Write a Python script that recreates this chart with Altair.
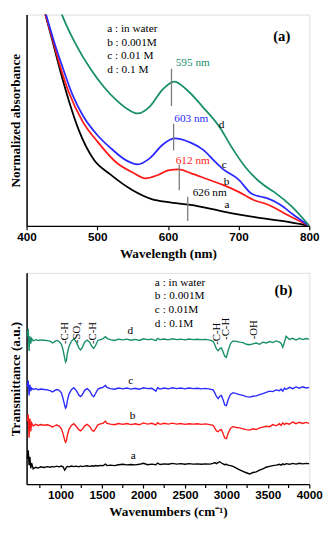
import altair as alt
import pandas as pd

# ---------------- Panel (a): UV-Vis ----------------
a_wl = [425, 437, 448, 460, 474, 495, 518, 550, 577, 600, 632, 677, 723, 768, 800]
a_val = [1.02, 0.87, 0.729, 0.59, 0.452, 0.314, 0.245, 0.169, 0.127, 0.112, 0.100, 0.069, 0.041, 0.020, 0.0]

b_wl = [425, 437, 448, 460, 480, 500, 527, 550, 568, 586, 602, 615, 632, 655, 677, 700, 723, 736, 750, 768, 800]
b_val = [1.02, 0.88, 0.75, 0.63, 0.49, 0.40, 0.30, 0.253, 0.225, 0.241, 0.264, 0.267, 0.25, 0.222,
         0.195, 0.161, 0.120, 0.107, 0.087, 0.054, 0.0]

c_wl = [425, 440, 450, 465, 480, 500, 520, 541, 557, 575, 592, 609, 632, 650, 668, 677, 700, 718, 732,
        741, 759, 777, 800]
c_val = [1.03, 0.86, 0.76, 0.62, 0.52, 0.43, 0.365, 0.31, 0.291, 0.322, 0.383, 0.414, 0.394, 0.36,
         0.299, 0.271, 0.219, 0.153, 0.138, 0.130, 0.100, 0.054, 0.0]

d_wl = [445, 455, 468, 491, 510, 527, 545, 557, 575, 592, 609, 625, 650, 673, 691, 710, 736, 750, 775, 800]
d_val = [1.04, 0.96, 0.87, 0.74, 0.655, 0.595, 0.548, 0.532, 0.567, 0.644, 0.683, 0.649, 0.56, 0.468,
         0.368, 0.276, 0.192, 0.161, 0.092, 0.0]

uv_colors = {"a": "#000000", "b": "#ff1a1a", "c": "#2a2aff", "d": "#178f6b"}

peak_x = [605, 608, 616, 628]
peak_y1 = [0.744, 0.483, 0.291, 0.138]
peak_y2 = [0.567, 0.357, 0.169, 0.023]

peak_text = ["595 nm", "603 nm", "612 nm", "626 nm"]
peak_tx = [611, 609, 611, 635]
peak_ty = [0.771, 0.506, 0.307, 0.153]
peak_col = ["#178f6b", "#2a2aff", "#ff1a1a", "#000000"]

letters_a = ["d", "c", "b", "a"]
letters_a_x = [672, 676, 679, 680]
letters_a_y = [0.475, 0.287, 0.207, 0.097]

legend_a = ["a : in water", "b : 0.001M", "c : 0.01 M", "d : 0.1 M"]
legend_a_y = [0.933, 0.867, 0.802, 0.739]

# ---------------- Panel (b): FTIR ----------------
wn = [595, 610, 620, 630, 640, 650, 670, 700, 730, 760, 800, 840, 880, 900, 920, 950, 980, 1010, 1030,
      1050, 1060, 1070, 1080, 1100, 1130, 1160, 1190, 1220, 1240, 1260, 1290, 1320, 1350, 1380, 1400,
      1420, 1450, 1480, 1510, 1540, 1560, 1600, 1650, 1700, 1750, 1800, 1850, 1900, 1950, 2000, 2050,
      2100, 2150, 2170, 2200, 2250, 2300, 2350, 2400, 2450, 2500, 2550, 2600, 2650, 2700, 2750, 2800,
      2840, 2860, 2880, 2900, 2920, 2940, 2960, 2980, 3000, 3020, 3050, 3080, 3120, 3160, 3200, 3240,
      3280, 3320, 3360, 3400, 3440, 3480, 3520, 3560, 3600, 3640, 3660, 3680, 3700, 3720, 3760, 3800,
      3840, 3880, 3920, 3960, 4000]

ir_d = [0.70, 0.735, 0.63, 0.70, 0.665, 0.69, 0.678, 0.684, 0.680, 0.683, 0.681, 0.679, 0.676, 0.668,
        0.672, 0.680, 0.676, 0.662, 0.635, 0.595, 0.578, 0.585, 0.615, 0.650, 0.676, 0.688, 0.672, 0.645,
        0.635, 0.645, 0.672, 0.682, 0.672, 0.650, 0.642, 0.655, 0.680, 0.684, 0.688, 0.698, 0.690, 0.684,
        0.680, 0.686, 0.683, 0.686, 0.681, 0.685, 0.680, 0.688, 0.684, 0.686, 0.679, 0.690, 0.684, 0.687,
        0.683, 0.688, 0.684, 0.686, 0.683, 0.687, 0.684, 0.686, 0.684, 0.685, 0.682, 0.676, 0.660, 0.640,
        0.632, 0.642, 0.645, 0.625, 0.605, 0.600, 0.630, 0.665, 0.678, 0.676, 0.672, 0.670, 0.662, 0.660,
        0.664, 0.668, 0.662, 0.672, 0.668, 0.675, 0.670, 0.678, 0.672, 0.666, 0.648, 0.672, 0.700, 0.685,
        0.690, 0.682, 0.690, 0.684, 0.689, 0.686]

ir_c = [0.46, 0.49, 0.42, 0.47, 0.44, 0.455, 0.448, 0.452, 0.447, 0.450, 0.448, 0.446, 0.442, 0.436,
        0.440, 0.448, 0.445, 0.432, 0.405, 0.372, 0.360, 0.366, 0.392, 0.425, 0.447, 0.456, 0.443, 0.422,
        0.415, 0.422, 0.444, 0.452, 0.442, 0.420, 0.414, 0.428, 0.450, 0.455, 0.458, 0.467, 0.458, 0.452,
        0.449, 0.455, 0.451, 0.455, 0.450, 0.454, 0.449, 0.456, 0.452, 0.454, 0.440, 0.456, 0.450, 0.455,
        0.451, 0.456, 0.452, 0.455, 0.451, 0.455, 0.452, 0.454, 0.451, 0.453, 0.450, 0.446, 0.432, 0.415,
        0.405, 0.416, 0.420, 0.400, 0.375, 0.372, 0.398, 0.425, 0.433, 0.428, 0.424, 0.420, 0.414, 0.412,
        0.416, 0.418, 0.424, 0.428, 0.434, 0.440, 0.438, 0.446, 0.442, 0.450, 0.440, 0.455, 0.448, 0.458,
        0.452, 0.460, 0.454, 0.461, 0.455, 0.458]

ir_b = [0.30, 0.33, 0.22, 0.31, 0.25, 0.29, 0.275, 0.283, 0.278, 0.282, 0.279, 0.281, 0.276, 0.270,
        0.274, 0.280, 0.276, 0.262, 0.238, 0.208, 0.198, 0.204, 0.228, 0.258, 0.278, 0.286, 0.273, 0.258,
        0.252, 0.258, 0.276, 0.283, 0.273, 0.255, 0.250, 0.262, 0.281, 0.285, 0.288, 0.298, 0.288, 0.284,
        0.281, 0.287, 0.283, 0.287, 0.282, 0.286, 0.281, 0.290, 0.284, 0.288, 0.280, 0.291, 0.283, 0.288,
        0.284, 0.289, 0.284, 0.287, 0.283, 0.286, 0.284, 0.286, 0.283, 0.285, 0.282, 0.278, 0.265, 0.252,
        0.248, 0.256, 0.258, 0.240, 0.218, 0.215, 0.240, 0.265, 0.272, 0.268, 0.266, 0.262, 0.258, 0.256,
        0.262, 0.258, 0.266, 0.270, 0.274, 0.272, 0.282, 0.276, 0.286, 0.278, 0.290, 0.282, 0.288, 0.284,
        0.294, 0.286, 0.293, 0.287, 0.292, 0.288]

ir_a = [0.12, 0.16, 0.09, 0.13, 0.075, 0.10, 0.072, 0.080, 0.076, 0.082, 0.079, 0.083, 0.080, 0.084,
        0.081, 0.085, 0.082, 0.086, 0.082, 0.066, 0.072, 0.080, 0.084, 0.082, 0.086, 0.083, 0.085, 0.082,
        0.086, 0.083, 0.085, 0.087, 0.084, 0.087, 0.085, 0.088, 0.086, 0.089, 0.087, 0.095, 0.088, 0.090,
        0.088, 0.092, 0.094, 0.091, 0.093, 0.091, 0.094, 0.099, 0.092, 0.095, 0.092, 0.100, 0.093, 0.096,
        0.094, 0.098, 0.095, 0.097, 0.094, 0.097, 0.095, 0.096, 0.094, 0.096, 0.095, 0.098, 0.102, 0.097,
        0.102, 0.106, 0.100, 0.096, 0.092, 0.094, 0.090, 0.088, 0.084, 0.076, 0.068, 0.060, 0.054, 0.048,
        0.055, 0.058, 0.066, 0.072, 0.080, 0.084, 0.088, 0.090, 0.094, 0.090, 0.096, 0.092, 0.097, 0.094,
        0.098, 0.095, 0.099, 0.096, 0.098, 0.097]

ir_major = [1000, 1500, 2000, 2500, 3000, 3500, 4000]
ir_minor = [750, 1250, 1750, 2250, 2750, 3250, 3750]

legend_b = ["a : in water", "b : 0.001M", "c : 0.01M", "d : 0.1M"]
legend_b_y = [0.954, 0.888, 0.823, 0.757]

letters_b = ["d", "c", "b", "a"]
letters_b_x = [1807, 1815, 1834, 1846]
letters_b_y = [0.723, 0.489, 0.323, 0.131]

group_text = ["-C-H", "-SO\u2084", "-C-H", "-C-H", "-C-H", "-OH"]
group_x = [1058, 1200, 1388, 2882, 3000, 3330]
group_y = [0.715, 0.717, 0.715, 0.712, 0.735, 0.731]

# ---------------- build ----------------
SERIF = "Liberation Serif"
SANS = "Liberation Sans"
W, H = 289, 216

uv_rows = []
for s, xs, ys in [("a", a_wl, a_val), ("b", b_wl, b_val), ("c", c_wl, c_val), ("d", d_wl, d_val)]:
    for x, y in zip(xs, ys):
        uv_rows.append({"s": s, "x": x, "y": y, "col": uv_colors[s]})
uv_df = pd.DataFrame(uv_rows)

ir_rows = []
for s, ys in [("a", ir_a), ("b", ir_b), ("c", ir_c), ("d", ir_d)]:
    for x, y in zip(wn, ys):
        ir_rows.append({"s": s, "x": x, "y": y, "col": uv_colors[s]})
ir_df = pd.DataFrame(ir_rows)

xa_scale = alt.Scale(domain=[400, 800], nice=False, zero=False)
ya_scale = alt.Scale(domain=[0, 1], nice=False)
xb_scale = alt.Scale(domain=[590, 4000], nice=False, zero=False)
yb_scale = alt.Scale(domain=[0, 1], nice=False)


def x_axis(title, values, expr):
    return alt.Axis(title=title, values=values, labelExpr=expr, grid=False, tickSize=4, tickWidth=1.2,
                    tickColor="black", domainColor="black", domainWidth=1.5, labelFont=SANS,
                    labelFontWeight="bold", labelFontSize=12, labelColor="black", labelPadding=2,
                    labelFlush=False, labelOverlap=False, titleFont=SERIF, titleFontWeight="bold",
                    titleFontSize=13.5, titleColor="black", titlePadding=4)


def y_axis(title):
    return alt.Axis(title=title, labels=False, ticks=False, grid=False, domainColor="black",
                    domainWidth=1.5, titleFont=SERIF, titleFontWeight="bold", titleFontSize=13.5,
                    titleColor="black", titlePadding=4)


lines_a = alt.Chart(uv_df).mark_line(strokeWidth=1.8, clip=True, interpolate="monotone").encode(
    x=alt.X("x:Q", scale=xa_scale,
            axis=x_axis("Wavelength (nm)", list(range(400, 801, 50)),
                        "datum.value % 100 == 0 ? format(datum.value, 'd') : ''")),
    y=alt.Y("y:Q", scale=ya_scale, axis=y_axis("Normalized absorbance")),
    color=alt.Color("col:N", scale=None),
    detail="s:N",
)

rules_a = alt.Chart(pd.DataFrame({"x": peak_x, "y": peak_y1, "y2": peak_y2})).mark_rule(
    color="#7a7a7a", strokeWidth=1.3).encode(
    x=alt.X("x:Q", scale=xa_scale), y=alt.Y("y:Q", scale=ya_scale), y2="y2:Q")

peaks_a = alt.Chart(pd.DataFrame({"x": peak_tx, "y": peak_ty, "t": peak_text, "col": peak_col})).mark_text(
    font=SERIF, fontSize=11.5, align="left", baseline="middle").encode(
    x=alt.X("x:Q", scale=xa_scale), y=alt.Y("y:Q", scale=ya_scale), text="t:N",
    color=alt.Color("col:N", scale=None))

lett_a = alt.Chart(pd.DataFrame({"x": letters_a_x, "y": letters_a_y, "t": letters_a})).mark_text(
    font=SERIF, fontSize=11.5, align="left", baseline="middle", color="black").encode(
    x=alt.X("x:Q", scale=xa_scale), y=alt.Y("y:Q", scale=ya_scale), text="t:N")

leg_a = alt.Chart(pd.DataFrame({"x": [514] * 4, "y": legend_a_y, "t": legend_a})).mark_text(
    font=SERIF, fontSize=11.5, align="left", baseline="middle", color="black").encode(
    x=alt.X("x:Q", scale=xa_scale), y=alt.Y("y:Q", scale=ya_scale), text="t:N")

tag_a = alt.Chart(pd.DataFrame({"x": [761], "y": [0.90], "t": ["(a)"]})).mark_text(
    font=SERIF, fontSize=15, fontWeight="bold", align="center", baseline="middle", color="black").encode(
    x=alt.X("x:Q", scale=xa_scale), y=alt.Y("y:Q", scale=ya_scale), text="t:N")

panel_a = alt.layer(lines_a, rules_a, peaks_a, lett_a, leg_a, tag_a).properties(width=W, height=H)

lines_b = alt.Chart(ir_df).mark_line(strokeWidth=1.4, clip=True).encode(
    x=alt.X("x:Q", scale=xb_scale,
            axis=x_axis("Wavenumbers (cm\u207b\u00b9)", ir_major, "format(datum.value, 'd')")),
    y=alt.Y("y:Q", scale=yb_scale, axis=y_axis("Transmittance (a.u.)")),
    color=alt.Color("col:N", scale=None),
    detail="s:N",
)

minor_b = alt.Chart(pd.DataFrame({"x": ir_minor})).mark_rule(color="black", strokeWidth=1.2).encode(
    x=alt.X("x:Q", scale=xb_scale), y=alt.value(H), y2=alt.value(H + 4))

leg_b = alt.Chart(pd.DataFrame({"x": [2137] * 4, "y": legend_b_y, "t": legend_b})).mark_text(
    font=SERIF, fontSize=11.5, align="left", baseline="middle", color="black").encode(
    x=alt.X("x:Q", scale=xb_scale), y=alt.Y("y:Q", scale=yb_scale), text="t:N")

lett_b = alt.Chart(pd.DataFrame({"x": letters_b_x, "y": letters_b_y, "t": letters_b})).mark_text(
    font=SERIF, fontSize=11.5, align="left", baseline="middle", color="black").encode(
    x=alt.X("x:Q", scale=xb_scale), y=alt.Y("y:Q", scale=yb_scale), text="t:N")

grp_b = alt.Chart(pd.DataFrame({"x": group_x, "y": group_y, "t": group_text})).mark_text(
    font=SERIF, fontSize=11, angle=270, align="center", baseline="middle", color="black").encode(
    x=alt.X("x:Q", scale=xb_scale), y=alt.Y("y:Q", scale=yb_scale), text="t:N")

tag_b = alt.Chart(pd.DataFrame({"x": [3689], "y": [0.918], "t": ["(b)"]})).mark_text(
    font=SERIF, fontSize=15, fontWeight="bold", align="center", baseline="middle", color="black").encode(
    x=alt.X("x:Q", scale=xb_scale), y=alt.Y("y:Q", scale=yb_scale), text="t:N")

panel_b = alt.layer(lines_b, minor_b, leg_b, lett_b, grp_b, tag_b).properties(width=W, height=H)

chart = alt.vconcat(panel_a, panel_b, spacing=12).properties(padding=0).configure_view(
    stroke="black", strokeWidth=1.5).configure(background="white").configure_axis(
    labelOverlap=False, labelFont=SANS, titleFont=SERIF)

chart.save("out.html", embed_options={"renderer": "svg", "actions": False})
